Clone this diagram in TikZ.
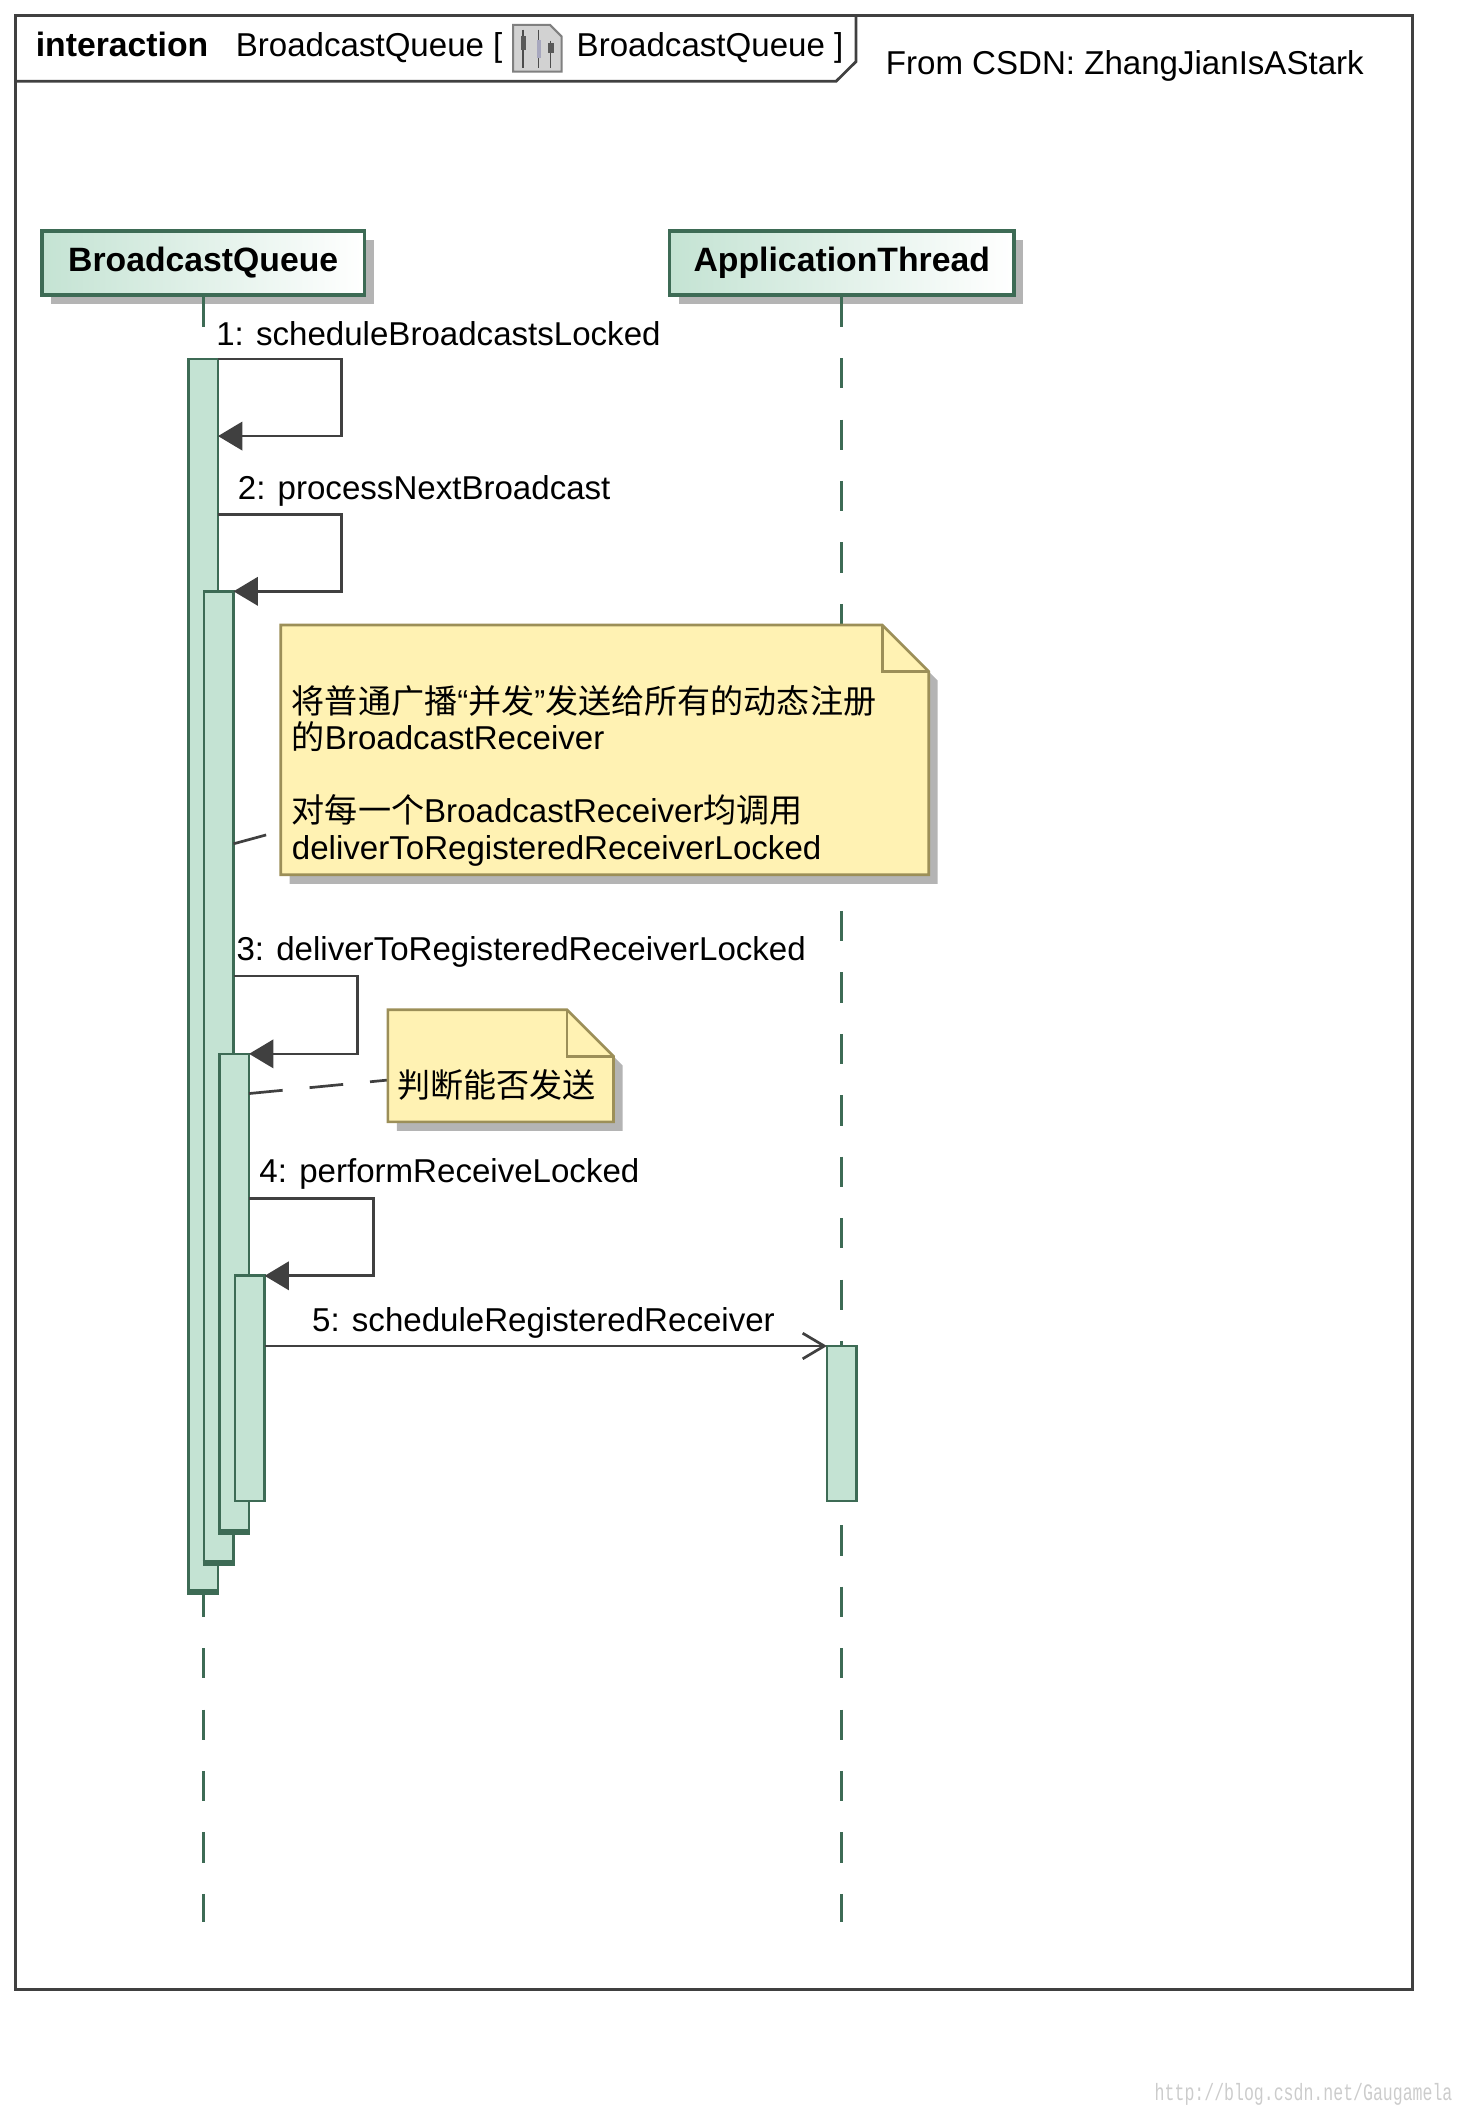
\documentclass[tikz,border=0pt]{standalone}
\usepackage{fontspec}
\setmainfont{Liberation Sans}
\setmonofont{Liberation Mono}
\newfontfamily\cjk{Noto Sans CJK SC}
\usetikzlibrary{positioning,shadows,arrows.meta}
\definecolor{actfill}{HTML}{C4E3D3}
\definecolor{actline}{HTML}{3D6B55}
\definecolor{notefill}{HTML}{FFF2B3}
\definecolor{noteline}{HTML}{9C8F58}
\definecolor{msgline}{HTML}{404040}
\definecolor{shadowgray}{HTML}{B4B4B4}
% dog-eared note: top left (#1,#2), bottom right (#3,#4)
\newcommand{\dognote}[4]{%
  \fill[shadowgray] (#1+6.6,#2+6.6) -- (#3-27.9,#2+6.6) -- (#3+6.6,#2+41.1) -- (#3+6.6,#4+6.6) -- (#1+6.6,#4+6.6) -- cycle;
  \draw[notebox] (#1,#2) -- (#3-34.5,#2) -- (#3,#2+34.5) -- (#3,#4) -- (#1,#4) -- cycle;
  \draw[notebox, fill=none] (#3-34.5,#2) |- (#3,#2+34.5);
}
\begin{document}
\begin{tikzpicture}[x=1pt, y=-1pt, line join=miter, font=\fontsize{24.5}{27}\selectfont,
  lbl/.style={anchor=base west, inner sep=0pt},
  head/.style={draw=actline, line width=2.5pt, left color=actfill, right color=white,
    minimum height=47.5pt, inner sep=0pt, font=\fontsize{25}{28}\selectfont\bfseries,
    drop shadow={shadow xshift=7pt, shadow yshift=-7pt, fill=shadowgray, opacity=1}},
  life/.style={actline, line width=2pt, dash pattern=on 22.5pt off 23pt},
  act/.style={draw=actline, fill=actfill, line width=2pt, minimum width=22pt, inner sep=0pt, outer sep=0pt, anchor=north},
  selfmsg/.style={msgline, line width=2pt, -{Triangle[length=18pt, width=21pt]}},
  callmsg/.style={msgline, line width=2pt, -{Straight Barb[length=16pt, width=19pt]}},
  notebox/.style={draw=noteline, fill=notefill, line width=2pt},
  notearea/.style={anchor=north west, inner sep=0pt, outer sep=0pt},
  notelink/.style={msgline, line width=2pt, dash pattern=on 25pt off 20pt},
  frameline/.style={msgline, line width=2pt}]
\useasboundingbox (0,0) rectangle (1080,1564.4);

% frame and header
\draw[frameline] (11.4,11.4) rectangle (1046,1473.6);
\draw[frameline] (11.4,60.2) -- (619.3,60.2) -- (634,45.7) -- (634,11.4);
\node[lbl, font=\fontsize{25}{28}\selectfont\bfseries] (kw) at (26.3,42) {interaction};
\node[lbl] (title1) at (174.5,42) {BroadcastQueue [};
\node[lbl] (title2) at (427,42) {BroadcastQueue ]};
\node[lbl] (source) at (656,55.5) {From CSDN: ZhangJianIsAStark};
% diagram icon
\draw[gray, line width=1.5pt, fill=gray!35] (380,18.5) -- (407.5,18.5) -- (416,27) -- (416,53) -- (380,53) -- cycle;
\draw[gray!60!black, line width=1pt] (387.5,22) -- (387.5,50) (399,22) -- (399,50) (408,30) -- (408,50);
\fill[gray!70!black] (385.7,27) rectangle (389.3,37);
\fill[blue!15!gray!60] (397.5,29.6) rectangle (401,43);
\fill[gray!70!black] (406,32) rectangle (410,39.5);

% lifelines
\node[head, minimum width=239pt] (bq) at (150.5,194.75) {BroadcastQueue};
\node[head, minimum width=255pt] (at) at (623.5,194.75) {ApplicationThread};
\coordinate (bqend) at (bq.south |- 0,1424);
\coordinate (atend) at (at.south |- 0,1424);
\draw[life] (bq.south) -- (bqend);
\draw[life] (at.south) -- (atend);

% activations
\node[act, minimum height=913pt] (a1) at (150.5,266) {};
\node[act, minimum height=720pt] (a2) at (162,438) {};
\node[act, minimum height=354.4pt] (a3) at (173.5,780.6) {};
\node[act, minimum height=166.8pt] (a4) at (185,945) {};
\node[act, minimum height=114.8pt] (a5) at (623.5,997) {};
\foreach \a in {a1,a2,a3}
  \draw[actline, line width=4.5pt] ([xshift=-1pt]\a.south west) -- ([xshift=1pt]\a.south east);

% messages
\coordinate (r1) at (253,323);
\coordinate (r2) at (253,438);
\coordinate (r3) at (265,780.6);
\coordinate (r4) at (276.4,945);
\draw[selfmsg] (a1.north east) -| (r1) -- (a1.east |- r1);
\draw[selfmsg] (a1.east |- 0,381) -| (r2) -- (a2.north east);
\draw[selfmsg] (a2.east |- 0,723) -| (r3) -- (a3.north east);
\draw[selfmsg] (a3.east |- 0,887.5) -| (r4) -- (a4.north east);
\draw[callmsg] (a4.east |- a5.north) -- (a5.north west);
\node[lbl] (l1) at (160,256) {1: scheduleBroadcastsLocked};
\node[lbl] (l2) at (176,370) {2: processNextBroadcast};
\node[lbl] (l3) at (175,711.5) {3: deliverToRegisteredReceiverLocked};
\node[lbl] (l4) at (192,876) {4: performReceiveLocked};
\node[lbl] (l5) at (231,986) {5: scheduleRegisteredReceiver};

% notes
\node[notearea, minimum width=480pt, minimum height=185pt] (n1) at (208,463) {};
\node[notearea, minimum width=167.2pt, minimum height=83pt] (n2) at (287.3,748) {};
\draw[notelink] (a2.east |- 0,625) -- (n1.west |- 0,615.5);
\draw[notelink] (a3.east |- 0,810) -- (n2.west |- 0,800);
\dognote{208}{463}{688}{648}
\dognote{287.3}{748}{454.5}{831}
\node[lbl, align=left] (n1text) at (216,636.5)
  {{\cjk 将普通广播}“{\cjk 并发}”{\cjk 发送给所有的动态注册}\\{\cjk 的}BroadcastReceiver\\[27pt]{\cjk 对每一个}BroadcastReceiver{\cjk 均调用}\\deliverToRegisteredReceiverLocked};
\node[lbl] (n2text) at (294,812.6) {\cjk 判断能否发送};

% watermark
\node[anchor=base east, inner sep=0pt, font=\fontsize{17.5}{20}\selectfont\ttfamily, text=gray!40, xscale=0.7] (wm) at (1076,1556) {http://blog.csdn.net/Gaugamela};
\end{tikzpicture}
\end{document}
